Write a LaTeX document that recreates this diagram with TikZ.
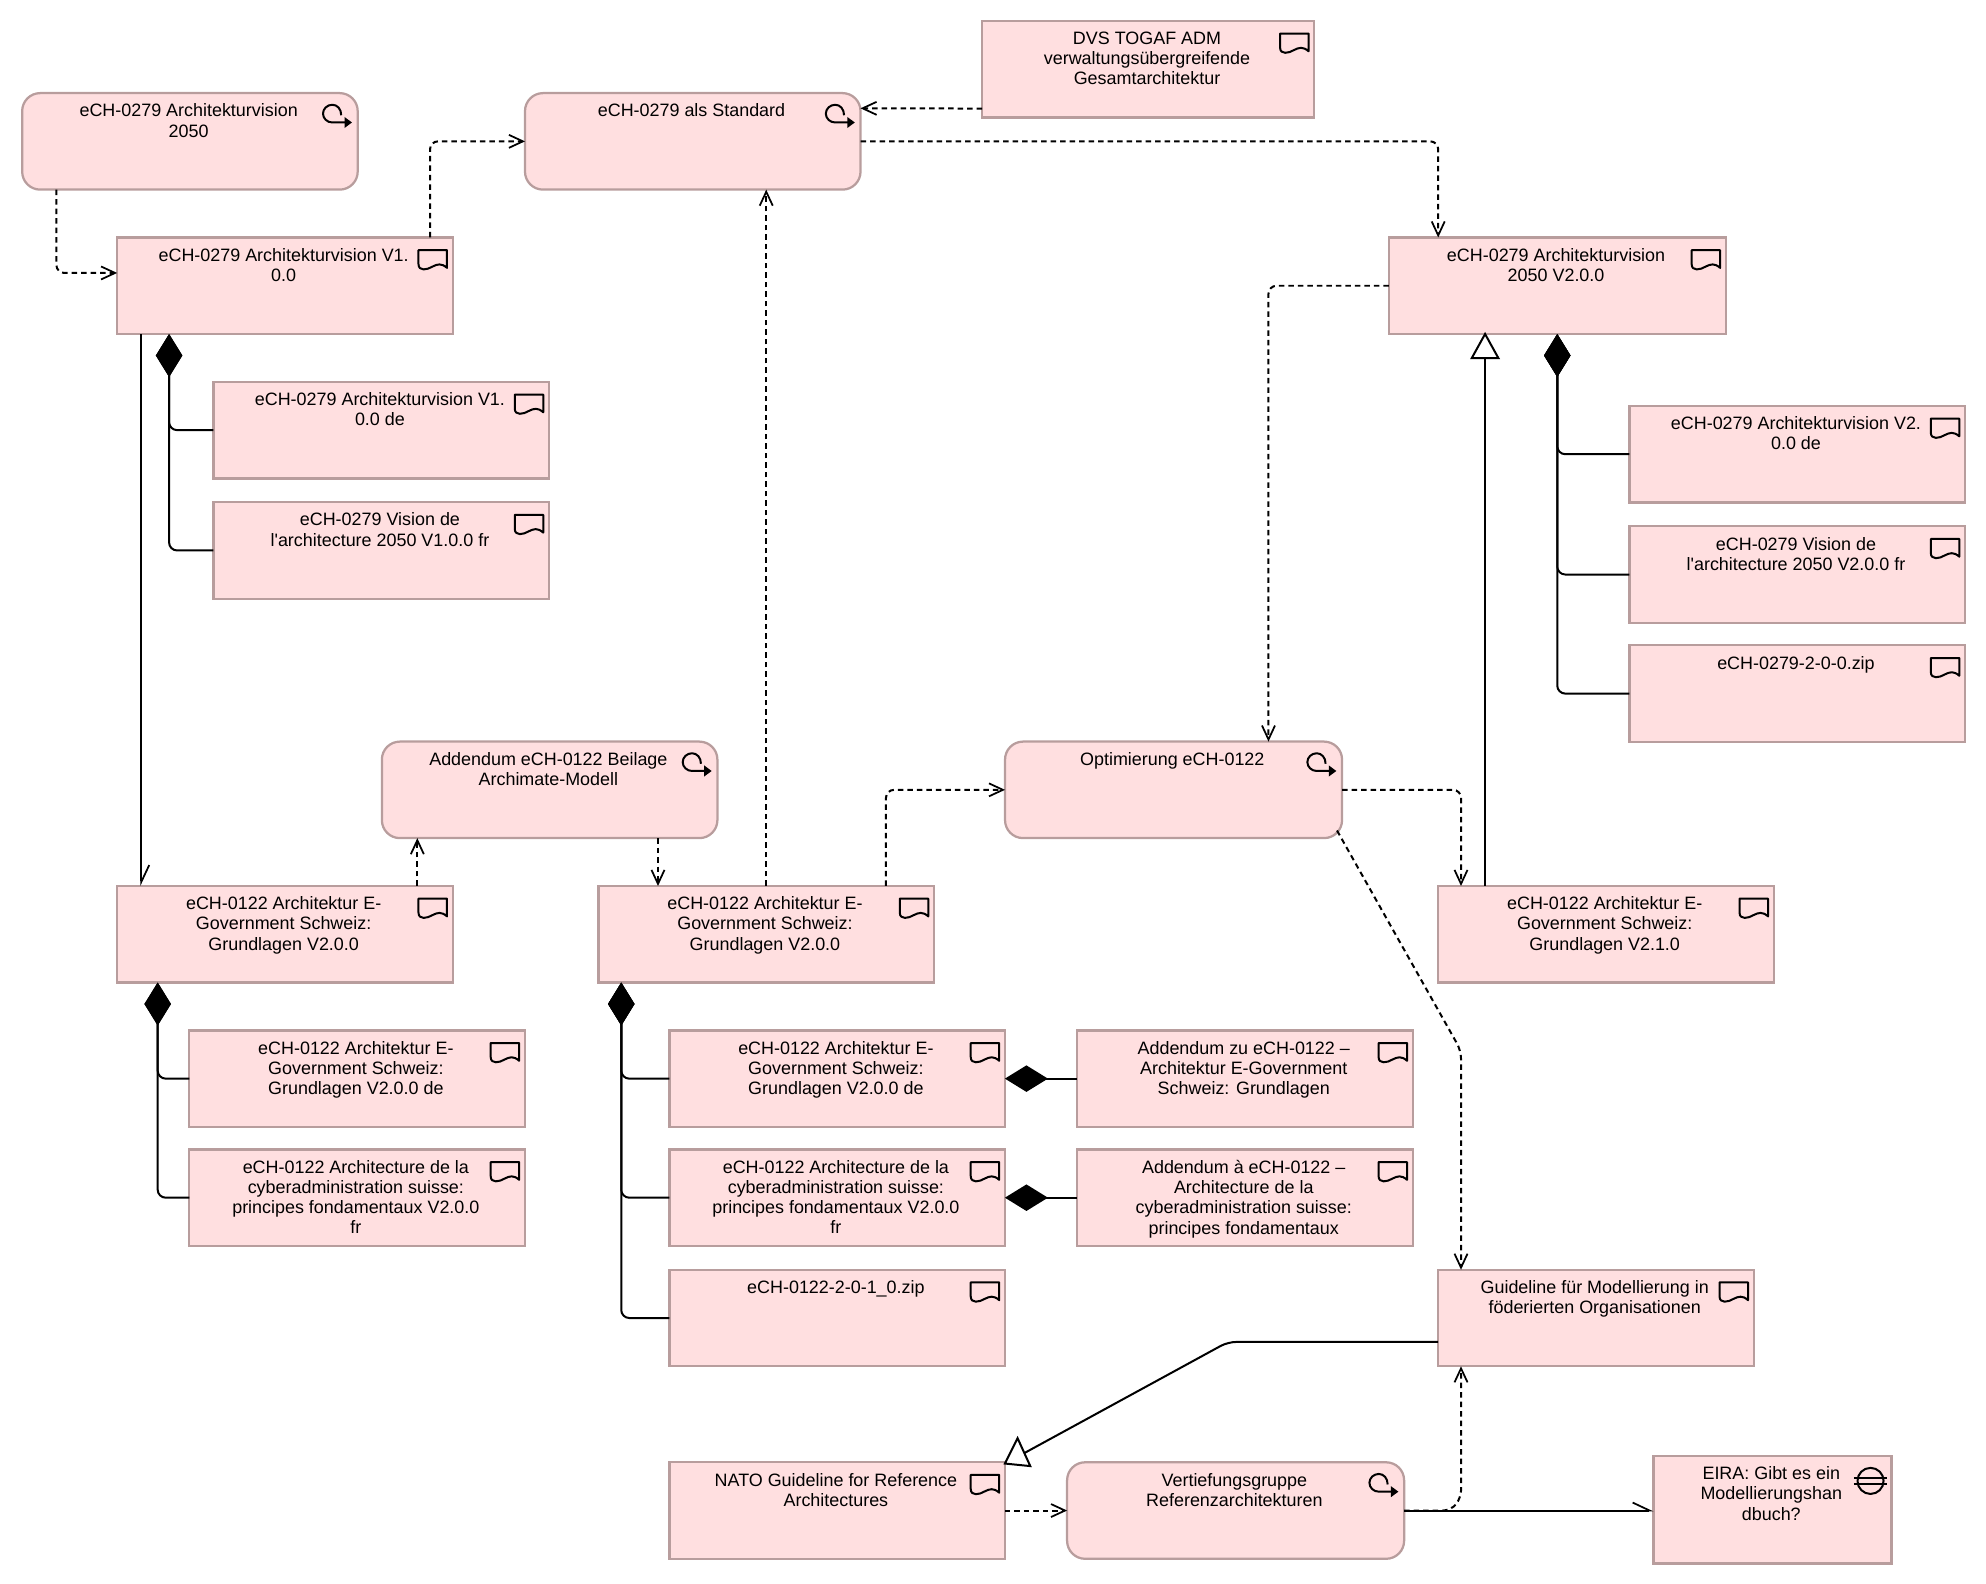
\documentclass[tikz,border=0pt]{standalone}
\usepackage{fontspec}
\usepackage{tikz}
\usetikzlibrary{arrows.meta,calc}
\newfontfamily\elemfont{Liberation Sans}
\definecolor{elemfill}{HTML}{FFDFE0}
\definecolor{elemline}{HTML}{B89D9D}
\tikzset{
  elem/.style 2 args={draw=elemline,fill=elemfill,line width=0.045cm,anchor=north west,
    inner sep=0pt,outer sep=0pt,minimum width=#1,minimum height=#2,
    font=\elemfont\fontsize{10.2}{11.5}\selectfont,
    execute at begin node={\begin{minipage}[c][#2][t]{#1}\centering\advance\rightskip by 0.05cm\vspace*{2.15mm}},
    execute at end node={\end{minipage}}},
  docbox/.style={elem={#1}{1.93cm}},
  docbox/.default=6.71cm,
  procbox/.style={elem={#1}{1.93cm},rounded corners=0.36cm},
  procbox/.default=6.71cm,
  wire/.style={line width=0.04cm,rounded corners=0.16cm},
  flow/.style={wire,dash pattern=on 0.11cm off 0.08cm,-{Straight Barb[length=0.28cm,width=0.26cm,line width=0.035cm]}},
  assign/.style={wire,-{Straight Barb[left,length=0.34cm,width=0.32cm,line width=0.035cm]}},
  comp/.style={wire,{Diamond[length=0.86cm,width=0.53cm]}-},
  hollow/.style={line width=0.04cm,fill=white,line join=miter},
  icon/.style={line width=0.04cm,line join=round},
  docicon/.pic={
    \draw[icon] (-27,10) -- (-4.5,10) -- (-4.5,24) .. controls (-9,20) and (-12,21) .. (-16,23)
      .. controls (-20,25.5) and (-27,27) .. (-27,21) -- cycle;
  },
  procicon/.pic={
    \draw[icon,-{Triangle[length=0.15cm,width=0.21cm]}] (-13,17.5) .. controls (-13,12.5) and (-16.2,9.2) .. (-20,9.2)
      .. controls (-24.1,9.2) and (-27.4,12.4) .. (-27.4,16.2)
      .. controls (-27.4,20) and (-24.1,23.2) .. (-20,23.2) -- (-4.5,23.2);
  },
  gapicon/.pic={
    \draw[icon] (-16.6,19.7) circle[radius=10.3];
    \draw[icon] (-29.8,17.6) -- (-3.4,17.6);
    \draw[icon] (-29.8,21.8) -- (-3.4,21.8);
  }
}
\begin{document}
\begin{tikzpicture}[x=0.02533cm,y=-0.02533cm]
  \useasboundingbox (-0.5,-0.5) rectangle (1567.5,1250.1);
  % processes
  \node[procbox] (procVision) at (17,73) {eCH-0279 Architekturvision\\2050};
  \node[procbox] (procStandard) at (414,73) {eCH-0279 als Standard};
  \node[procbox] (procAddendum) at (301,585) {Addendum eCH-0122 Beilage\\Archimate-Modell};
  \node[procbox=6.74cm] (procOptim) at (793,585) {Optimierung eCH-0122};
  \node[procbox=6.74cm] (procDeep) at (842,1154) {Vertiefungsgruppe\\Referenzarchitekturen};
  % documents eCH-0279
  \node[docbox=6.64cm] (docTogaf) at (775,16) {DVS TOGAF ADM\\verwaltungsübergreifende\\Gesamtarchitektur};
  \node[docbox] (docVisionOne) at (92,187) {eCH-0279 Architekturvision V1.\\0.0};
  \node[docbox] (docVisionOneDe) at (168,301) {eCH-0279 Architekturvision V1.\\0.0 de};
  \node[docbox] (docVisionOneFr) at (168,396) {eCH-0279 Vision de\\l'architecture 2050 V1.0.0 fr};
  \node[docbox=6.74cm] (docVisionTwo) at (1096,187) {eCH-0279 Architekturvision\\2050 V2.0.0};
  \node[docbox] (docVisionTwoDe) at (1286,320) {eCH-0279 Architekturvision V2.\\0.0 de};
  \node[docbox] (docVisionTwoFr) at (1286,415) {eCH-0279 Vision de\\l'architecture 2050 V2.0.0 fr};
  \node[docbox] (docVisionZip) at (1286,509) {eCH-0279-2-0-0.zip};
  % documents eCH-0122
  \node[docbox] (docBaseLeft) at (92,699) {eCH-0122 Architektur E-\\Government Schweiz:\\Grundlagen V2.0.0};
  \node[docbox] (docBaseLeftDe) at (149,813) {eCH-0122 Architektur E-\\Government Schweiz:\\Grundlagen V2.0.0 de};
  \node[docbox] (docBaseLeftFr) at (149,907) {eCH-0122 Architecture de la\\cyberadministration suisse:\\principes fondamentaux V2.0.0\\fr};
  \node[docbox] (docBaseMid) at (472,699) {eCH-0122 Architektur E-\\Government Schweiz:\\Grundlagen V2.0.0};
  \node[docbox] (docBaseMidDe) at (528,813) {eCH-0122 Architektur E-\\Government Schweiz:\\Grundlagen V2.0.0 de};
  \node[docbox] (docBaseMidFr) at (528,907) {eCH-0122 Architecture de la\\cyberadministration suisse:\\principes fondamentaux V2.0.0\\fr};
  \node[docbox] (docBaseZip) at (528,1002) {eCH-0122-2-0-1\_0.zip};
  \node[docbox] (docBaseNew) at (1135,699) {eCH-0122 Architektur E-\\Government Schweiz:\\Grundlagen V2.1.0};
  \node[docbox] (docAddDe) at (850,813) {Addendum zu eCH-0122 –\\Architektur E-Government\\Schweiz: Grundlagen};
  \node[docbox] (docAddFr) at (850,907) {Addendum à eCH-0122 –\\Architecture de la\\cyberadministration suisse:\\principes fondamentaux};
  \node[docbox=6.31cm] (docGuide) at (1135,1002) {Guideline für Modellierung in\\föderierten Organisationen};
  \node[docbox] (docNato) at (528,1154) {NATO Guideline for Reference\\Architectures};
  \node[elem={4.76cm}{2.15cm}] (gapEira) at (1305,1149) {EIRA: Gibt es ein\\Modellierungshan\\dbuch?};
  % icons
  \foreach \n in {procVision,procStandard,procAddendum,procOptim,procDeep}
    \pic at (\n.north east) {procicon};
  \foreach \n in {docTogaf,docVisionOne,docVisionOneDe,docVisionOneFr,docVisionTwo,docVisionTwoDe,docVisionTwoFr,docVisionZip,docBaseLeft,docBaseLeftDe,docBaseLeftFr,docBaseMid,docBaseMidDe,docBaseMidFr,docBaseZip,docBaseNew,docAddDe,docAddFr,docGuide,docNato}
    \pic at (\n.north east) {docicon};
  \pic at (gapEira.north east) {gapicon};
  % dashed flows
  \draw[flow] ($(procVision.south west)+(27,0)$) |- ($(docVisionOne.north west)+(0,28)$);
  \draw[flow] ($(docVisionOne.north west)+(247,0)$) |- (procStandard.west);
  \draw[flow] ($(docTogaf.south west)+(0,-7)$) -- ($(procStandard.north east)+(0,12)$);
  \draw[flow] (procStandard.east) -| ($(docVisionTwo.north west)+(39,0)$);
  \draw[flow] (docVisionTwo.west) -| ($(procOptim.north west)+(208,0)$);
  \draw[flow] (procOptim.east) -| ($(docBaseNew.north west)+(18,0)$);
  \draw[flow] ($(procOptim.south east)+(-4,-6)$) -- ($(docGuide.north west)+(18,-173)$) -- ($(docGuide.north west)+(18,0)$);
  \draw[flow] ($(docBaseMid.north west)+(227,0)$) |- (procOptim.west);
  \draw[flow] (docBaseMid.north) -- (procStandard.south -| docBaseMid.north);
  \draw[flow] ($(procAddendum.south west)+(218,0)$) -- ($(docBaseMid.north west)+(47,0)$);
  \draw[flow] ($(docBaseLeft.north west)+(237,0)$) -- ($(procAddendum.south west)+(28,0)$);
  \draw[flow] (docNato.east) -- (procDeep.west);
  \draw[flow] (procDeep.east) -- ($(procDeep.east)+(37,0)$) -- ($(procDeep.east)+(45,-10)$) -- ($(docGuide.south west)+(18,0)$);
  % solid links
  \draw[assign] ($(docVisionOne.south west)+(19,0)$) -- ($(docBaseLeft.north west)+(19,0)$);
  \draw[assign] (procDeep.east) -- (procDeep.east -| gapEira.west);
  \draw[wire] ($(docBaseNew.north west)+(37,0)$) -- ($(docVisionTwo.south west)+(76,19)$);
  \draw[hollow] ($(docVisionTwo.south west)+(76,0)$) -- ++(10.5,19) -- ++(-21,0) -- cycle;
  \draw[wire] ($(docGuide.north west)+(0,57)$) -- ($(docGuide.north west)+(-166,57)$) -- ($(docNato.north east)+(13,-6)$);
  \draw[hollow] ($(docNato.north east)+(10,-19)$) -- ($(docNato.north east)+(20,3)$) -- ($(docNato.north east)+(0,1)$) -- cycle;
  % compositions
  \draw[comp] ($(docVisionOne.south west)+(41,0)$) |- (docVisionOneDe.west);
  \draw[comp] ($(docVisionOne.south west)+(41,0)$) |- (docVisionOneFr.west);
  \foreach \n in {docVisionTwoDe,docVisionTwoFr,docVisionZip}
    \draw[comp] ($(docVisionTwo.south west)+(133,0)$) |- (\n.west);
  \foreach \n in {docBaseLeftDe,docBaseLeftFr}
    \draw[comp] ($(docBaseLeft.south west)+(32,0)$) |- (\n.west);
  \foreach \n in {docBaseMidDe,docBaseMidFr,docBaseZip}
    \draw[comp] ($(docBaseMid.south west)+(18,0)$) |- (\n.west);
  \draw[comp] (docBaseMidDe.east) -- (docAddDe.west);
  \draw[comp] (docBaseMidFr.east) -- (docAddFr.west);
\end{tikzpicture}
\end{document}
